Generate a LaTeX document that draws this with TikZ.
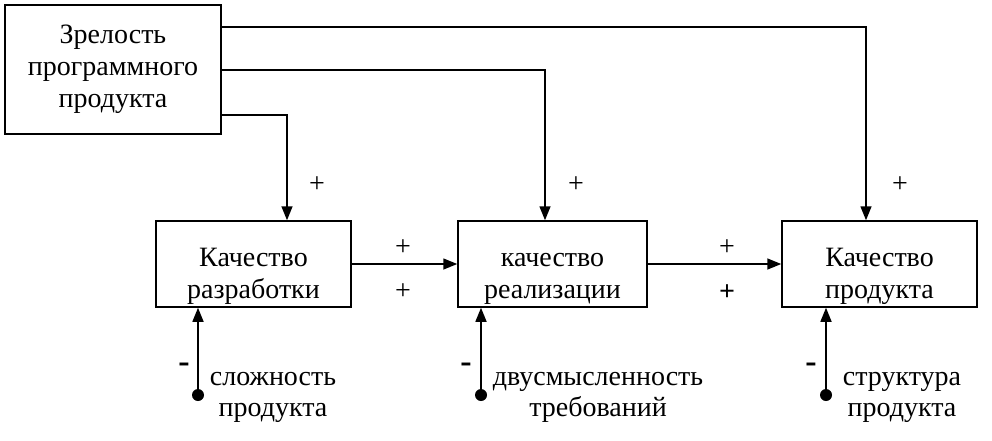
\documentclass[tikz,border=0pt]{standalone}
\usepackage{fontspec}
\setmainfont{LiberationSerif-Regular.ttf}[BoldFont=LiberationSerif-Bold.ttf]
\usetikzlibrary{arrows.meta}
\tikzset{
    block-box/.style = {draw, fill=white, line width=1.5pt, rectangle, align=center, inner sep=2pt, font=\fontsize{28}{32}\selectfont},
    flow-arrow/.style = {line width=1.5pt, -{Triangle[length=14pt,width=11pt]}},
    sign-label/.style = {font=\fontsize{28}{32}\selectfont, inner sep=0pt},
    minus-label/.style = {font=\fontsize{34}{36}\selectfont\bfseries, inner sep=0pt},
    input-dot/.style = {circle, fill=black, inner sep=0pt, minimum size=12pt},
    input-label/.style = {align=center, inner sep=0pt, font=\fontsize{28}{31}\selectfont},
}

\begin{document}
\begin{tikzpicture}[x=1pt, y=-1pt]
\useasboundingbox (0,0) rectangle (992,440);
% blocks
\node[block-box, minimum width=216pt, minimum height=129pt] (maturity) at (113,69.5) {Зрелость\\программного\\продукта};
\node[block-box, minimum width=195pt, minimum height=86pt, inner ysep=0pt, text height=75pt] (dev-quality) at (253.5,264) {Качество\\разработки};
\node[block-box, minimum width=189pt, minimum height=86pt, inner ysep=0pt, text height=75pt] (impl-quality) at (552.5,264) {качество\\реализации};
\node[block-box, minimum width=195pt, minimum height=86pt, inner ysep=0pt, text height=75pt] (prod-quality) at (879.5,264) {Качество\\продукта};

% links from the maturity block
\draw[flow-arrow] (maturity.east |- 0,27) -| ([xshift=-13.5pt]prod-quality.north);
\draw[flow-arrow] (maturity.east |- 0,70) -| ([xshift=-7.5pt]impl-quality.north);
\draw[flow-arrow] (maturity.east |- 0,115) -| ([xshift=33.5pt]dev-quality.north);
\node[sign-label] (plus-top1) at (317,185) {+};
\node[sign-label] (plus-top2) at (576,185) {+};
\node[sign-label] (plus-top3) at (900,185) {+};

% chain
\draw[flow-arrow] (dev-quality) -- (impl-quality);
\draw[flow-arrow] (impl-quality) -- (prod-quality);
\node[sign-label] (plus-a1) at (403,248) {+};
\node[sign-label] (plus-b1) at (403,292) {+};
\node[sign-label] (plus-a2) at (727,248) {+};
\node[sign-label] (plus-b2) at (727,293) {\textbf{+}};

% outer factors
\node[input-dot] (cplx-dot) at (198,395) {};
\node[input-dot] (ambig-dot) at (481,395) {};
\node[input-dot] (struct-dot) at (826,395) {};
\draw[flow-arrow] (cplx-dot.center) -- (cplx-dot |- dev-quality.south);
\draw[flow-arrow] (ambig-dot.center) -- (ambig-dot |- impl-quality.south);
\draw[flow-arrow] (struct-dot.center) -- (struct-dot |- prod-quality.south);
\node[minus-label] (minus1) at (184,368) {-};
\node[minus-label] (minus2) at (466,368) {-};
\node[minus-label] (minus3) at (811,368) {-};
\node[input-label] (cplx-text) at (273,397) {сложность\\продукта};
\node[input-label] (ambig-text) at (598,397) {двусмысленность\\требований};
\node[input-label] (struct-text) at (902,397) {структура\\продукта};
\end{tikzpicture}
\end{document}
